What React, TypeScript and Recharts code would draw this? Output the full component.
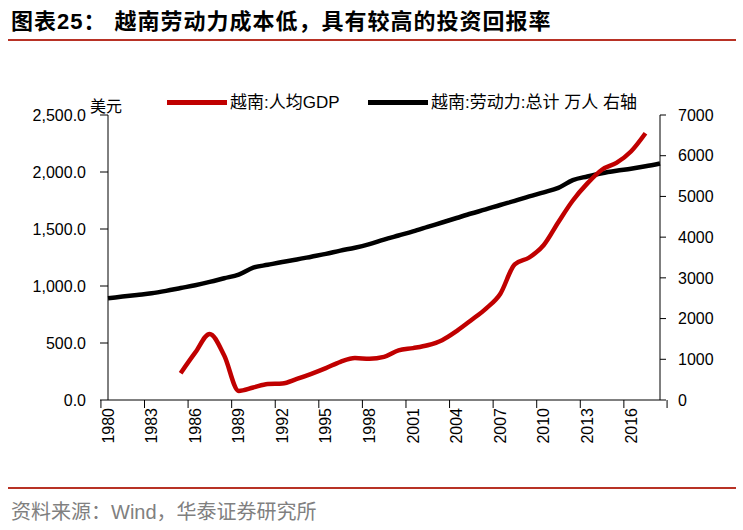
import { LineChart, Line, XAxis, YAxis } from 'recharts';

const years = [
  '1980', '1981', '1982', '1983', '1984', '1985', '1986', '1987', '1988', '1989',
  '1990', '1991', '1992', '1993', '1994', '1995', '1996', '1997', '1998', '1999',
  '2000', '2001', '2002', '2003', '2004', '2005', '2006', '2007', '2008', '2009',
  '2010', '2011', '2012', '2013', '2014', '2015', '2016', '2017', '2018',
];

// 越南:人均GDP (美元), left axis
const gdpPerCapita = [
  null, null, null, null, null, 235, 415, 580, 390, 80,
  110, 140, 145, 185, 230, 280, 335, 368, 362, 378,
  435, 455, 480, 525, 605, 700, 800, 930, 1190, 1250,
  1360, 1560, 1750, 1900, 2020, 2080, 2180, 2340, null,
];

// 越南:劳动力:总计 (万人), right axis
const labourForce = [
  2500, 2540, 2580, 2620, 2680, 2750, 2820, 2900, 2990, 3080,
  3250, 3320, 3390, 3450, 3520, 3590, 3670, 3740, 3830, 3940,
  4040, 4140, 4250, 4360, 4470, 4580, 4680, 4790, 4890, 5000,
  5100, 5210, 5400, 5490, 5570, 5630, 5680, 5740, 5810,
];

const leftTicks = [0, 500, 1000, 1500, 2000, 2500];
const rightTicks = [0, 1000, 2000, 3000, 4000, 5000, 6000, 7000];

const seriesNames = ['越南:人均GDP', '越南:劳动力:总计 万人 右轴'];
const seriesColors = ['#C00000', '#000000'];

const titlePrefix = '图表25：';
const title = '越南劳动力成本低，具有较高的投资回报率';
const source = '资料来源：Wind，华泰证券研究所';

const data = years.map((year, i) => ({
  year,
  gdp: gdpPerCapita[i],
  labour: labourForce[i],
}));

const PLOT_LEFT = 108;
const PLOT_RIGHT = 660;
const BAND = (PLOT_RIGHT - PLOT_LEFT) / years.length;
const numFont = '"Liberation Sans", Arial, sans-serif';
const cjkFont = '"Liberation Sans", "Noto Sans CJK SC", sans-serif';

function YearTick(props: any) {
  const { x, y, payload } = props;
  const i = years.indexOf(payload.value);
  const showLabel = i % 3 === 0;
  return (
    <g>
      {showLabel && <line x1={x - BAND / 2} x2={x - BAND / 2} y1={y} y2={y + 8} stroke="#000" />}
      {i === years.length - 1 && <line x1={x + BAND / 2} x2={x + BAND / 2} y1={y} y2={y + 8} stroke="#000" />}
      {showLabel && (
        <text
          x={x}
          y={y + 8}
          dy="0.35em"
          textAnchor="end"
          transform={`rotate(-90 ${x} ${y + 8})`}
          fontSize={16}
          fontFamily={numFont}
          fill="#000"
        >
          {payload.value}
        </text>
      )}
    </g>
  );
}

const fmtLeft = (v: number) =>
  v.toLocaleString('en-US', { minimumFractionDigits: 1, maximumFractionDigits: 1 });

export default function App() {
  return (
    <div style={{ position: 'absolute', left: 0, top: 0, width: 743, height: 530, background: '#fff', fontFamily: cjkFont }}>
      <div style={{ position: 'absolute', left: 11, top: 8, fontSize: 22, fontWeight: 'bold', letterSpacing: 1, lineHeight: '28px', color: '#000', whiteSpace: 'nowrap' }}>
        <span>{titlePrefix}</span>
        <span style={{ marginLeft: 8 }}>{title}</span>
      </div>
      <div style={{ position: 'absolute', left: 8, top: 39, width: 728, height: 2, background: '#B83225' }} />

      <LineChart width={743} height={530} data={data} margin={{ top: 115, right: 0, bottom: 70, left: 0 }}>
        <XAxis
          dataKey="year"
          interval={0}
          height={60}
          tickSize={0}
          tickMargin={0}
          tickLine={false}
          axisLine={{ stroke: '#000' }}
          tick={<YearTick />}
        />
        <YAxis
          yAxisId="left"
          width={108}
          domain={[0, 2500]}
          ticks={leftTicks}
          tickFormatter={fmtLeft}
          tickSize={8}
          tickMargin={14}
          axisLine={{ stroke: '#000' }}
          tickLine={{ stroke: '#000' }}
          tick={{ fill: '#000', fontSize: 16, fontFamily: numFont }}
        />
        <YAxis
          yAxisId="right"
          orientation="right"
          width={83}
          domain={[0, 7000]}
          ticks={rightTicks}
          tickSize={6}
          tickMargin={12}
          axisLine={{ stroke: '#000' }}
          tickLine={{ stroke: '#000' }}
          tick={{ fill: '#000', fontSize: 16, fontFamily: numFont, textAnchor: 'start' }}
        />
        <Line
          yAxisId="right"
          dataKey="labour"
          name={seriesNames[1]}
          type="monotone"
          stroke={seriesColors[1]}
          strokeWidth={4.5}
          dot={false}
          isAnimationActive={false}
        />
        <Line
          yAxisId="left"
          dataKey="gdp"
          name={seriesNames[0]}
          type="monotone"
          stroke={seriesColors[0]}
          strokeWidth={4.5}
          dot={false}
          isAnimationActive={false}
        />
      </LineChart>

      <div style={{ position: 'absolute', left: 90, top: 98, fontSize: 16, lineHeight: '17px', color: '#000' }}>美元</div>

      <div style={{ position: 'absolute', left: 167, top: 100, width: 60, height: 5, background: seriesColors[0] }} />
      <div style={{ position: 'absolute', left: 230, top: 92, fontSize: 17, lineHeight: '22px', color: '#000', whiteSpace: 'nowrap' }}>{seriesNames[0]}</div>
      <div style={{ position: 'absolute', left: 368, top: 100, width: 60, height: 5, background: seriesColors[1] }} />
      <div style={{ position: 'absolute', left: 431, top: 92, fontSize: 17, lineHeight: '22px', color: '#000', whiteSpace: 'nowrap' }}>{seriesNames[1]}</div>

      <div style={{ position: 'absolute', left: 8, top: 487, width: 728, height: 2, background: '#B83225' }} />
      <div style={{ position: 'absolute', left: 11, top: 500, fontSize: 20, lineHeight: '25px', color: '#808080', whiteSpace: 'nowrap' }}>{source}</div>
    </div>
  );
}
